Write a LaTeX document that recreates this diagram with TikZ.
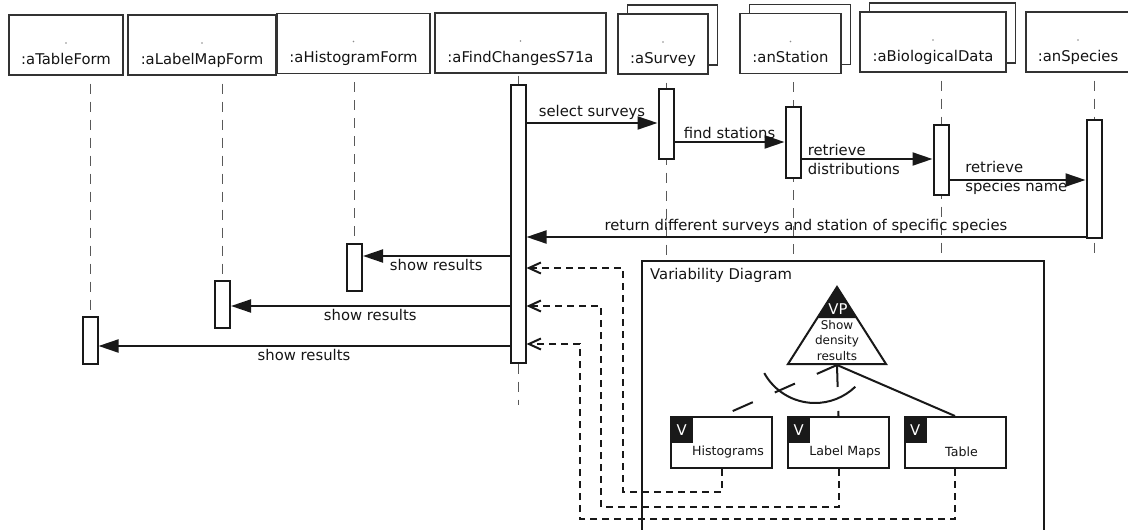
\documentclass[tikz,border=0pt]{standalone}
\usepackage{fontspec}
\setmainfont{DejaVu Sans}
\usetikzlibrary{positioning,arrows.meta,shadows,backgrounds}

\begin{document}
\begin{tikzpicture}[x=1pt,y=-1pt,
	every node/.style={font=\fontsize{14.8}{19}\selectfont,text=black!92},
	obj/.style={draw=black!80,line width=1.2pt,fill=white,minimum height=60pt,inner sep=0pt,text height=38pt,text depth=0pt},
	multi/.style={obj,copy shadow={shadow xshift=9.5pt,shadow yshift=9pt,draw=black!80,fill=white,line width=1.2pt}},
	act/.style={draw=black!90,line width=2pt,fill=white,minimum width=15pt,inner sep=0pt},
	life/.style={draw=black!65,line width=1pt,dash pattern=on 10pt off 8pt},
	msg/.style={draw=black!90,line width=2pt,-{Triangle[length=20pt,width=13pt]}},
	ret/.style={draw=black!90,line width=2pt,dash pattern=on 7pt off 5pt,-{Straight Barb[length=12pt,width=11pt]}},
	lbl/.style={inner sep=2pt},
	variant/.style={draw=black!90,line width=2pt,fill=white,minimum width=101pt,minimum height=51pt,inner sep=0pt,
		label={[anchor=north west,fill=black!90,text=white,minimum width=23pt,minimum height=27pt,inner sep=0pt]north west:V}},
	vname/.style={xshift=6.5pt,yshift=-9.5pt,font=\fontsize{12.6}{15}\selectfont},
	opt/.style={draw=black!90,line width=2pt,dash pattern=on 22pt off 24pt},
	mand/.style={draw=black!90,line width=2pt},
	]
	\useasboundingbox (0,0) rectangle (1128,530);

	\node[obj,minimum width=114pt] (tableform) at (66,45) {:aTableForm};
	\node[obj,minimum width=148pt] (labelform) at (202,45) {:aLabelMapForm};
	\node[obj,minimum width=153pt] (histform) at (353.5,43.5) {:aHistogramForm};
	\node[obj,minimum width=171pt] (findchanges) at (520.5,43) {:aFindChangesS71a};
	\node[multi,minimum width=90pt] (survey) at (663,44) {:aSurvey};
	\node[multi,minimum width=101pt] (station) at (790.5,43.5) {:anStation};
	\node[multi,minimum width=146pt] (biodata) at (933,42) {:aBiologicalData};
	\node[obj,minimum width=104pt] (species) at (1078,42) {:anSpecies};
	\fill[black!45] (tableform.center) ++(0,-2) circle (0.8pt) (labelform.center) ++(0,-2) circle (0.8pt)
		(histform.center) ++(0,-2) circle (0.8pt) (findchanges.center) ++(0,-2) circle (0.8pt)
		(survey.center) ++(0,-2) circle (0.8pt) (station.center) ++(0,-2) circle (0.8pt)
		(biodata.center) ++(0,-2) circle (0.8pt) (species.center) ++(0,-2) circle (0.8pt);

	\node[act,minimum height=47pt] (table-act) at (90,340.5) {};
	\node[act,minimum height=47pt] (label-act) at (222.5,304.5) {};
	\node[act,minimum height=47pt] (hist-act) at (354.5,267.5) {};
	\node[act,minimum height=278pt] (find-act) at (518,224) {};
	\node[act,minimum height=70pt] (survey-act) at (666,124) {};
	\node[act,minimum height=71pt] (station-act) at (793,142.5) {};
	\node[act,minimum height=70pt] (bio-act) at (941,160) {};
	\node[act,minimum height=118pt] (species-act) at (1094,179) {};

	\begin{scope}[on background layer]
		\draw[life] (tableform.south -| table-act) ++(0,8) -- (table-act |- 0,370);
		\draw[life] (labelform.south -| label-act) ++(0,8) -- (label-act |- 0,300);
		\draw[life] (histform.south -| hist-act) ++(0,8) -- (hist-act |- 0,298);
		\draw[life] (findchanges.south -| find-act) ++(0,2) -- (find-act |- 0,405);
		\draw[life] (survey.south -| survey-act) ++(0,8) -- (survey-act |- 0,258);
		\draw[life] (station.south -| station-act) ++(0,8) -- (station-act |- 0,258);
		\draw[life] (biodata.south -| bio-act) ++(0,8) -- (bio-act |- 0,258);
		\draw[life] (species.south -| species-act) ++(0,8) -- (species-act |- 0,258);
	\end{scope}

	\draw[msg] (find-act.east |- 0,123) -- node[lbl,above] {select surveys} (survey-act.west |- 0,123);
	\draw[msg] (survey-act.east |- 0,142) -- node[lbl,above] {find stations} (station-act.west |- 0,142);
	\draw[msg] (station-act.east |- 0,159) -- node[at start,anchor=west,xshift=2pt,align=left] {retrieve\\distributions} (bio-act.west |- 0,159);
	\draw[msg] (bio-act.east |- 0,180) -- node[at start,anchor=west,xshift=11.5pt,yshift=2.5pt,align=left] {retrieve\\species name} (species-act.west |- 0,180);
	\draw[msg] (species-act.west |- 0,237) -- node[lbl,above] {return different surveys and station of specific species} (find-act.east |- 0,237);
	\draw[msg] (find-act.west |- 0,256) -- node[lbl,below] {show results} (hist-act.east |- 0,256);
	\draw[msg] (find-act.west |- 0,306) -- node[lbl,below] {show results} (label-act.east |- 0,306);
	\draw[msg] (find-act.west |- 0,346) -- node[lbl,below] {show results} (table-act.east |- 0,346);

	\node[draw=black!90,line width=2pt,minimum width=402pt,minimum height=280pt,inner sep=0pt] (vd) at (843,401) {};
	\node[below right=8pt and 9pt of vd.north west,inner sep=0pt] (vd-title) {Variability Diagram};

	\coordinate (vp top) at (837,287);
	\coordinate (vp base) at (837,365);
	\draw[mand,fill=white] (vp top) -- (788,364) -- (886,364) -- cycle;
	\fill[black!90] (vp top) -- (817.4,318) -- (856.6,318) -- cycle;
	\node[text=white] (vp-tag) at (838,309) {VP};
	\node[font=\fontsize{12}{15.5}\selectfont,align=center,inner sep=0pt] (vp-name) at (837,340.5) {Show\\density\\results};

	\node[variant,label={[vname]center:Histograms}] (histo) at (721.5,442.5) {};
	\node[variant,label={[vname]center:Label Maps}] (labelmaps) at (838.5,442.5) {};
	\node[variant,label={[vname]center:Table}] (table) at (955,442.5) {};

	\draw[opt] (vp base) -- (histo.north);
	\draw[opt] (vp base) -- (labelmaps.north);
	\draw[mand] (vp base) -- (table.north);
	\draw[mand] (815,345) ++(151:58) arc[start angle=151,end angle=46,radius=58];

	\draw[ret] (histo.south) |- (623,492) |- (find-act.east |- 0,268);
	\draw[ret] (labelmaps.south) |- (601,507) |- (find-act.east |- 0,306);
	\draw[ret] (table.south) |- (580,519) |- (find-act.east |- 0,344);
\end{tikzpicture}
\end{document}
